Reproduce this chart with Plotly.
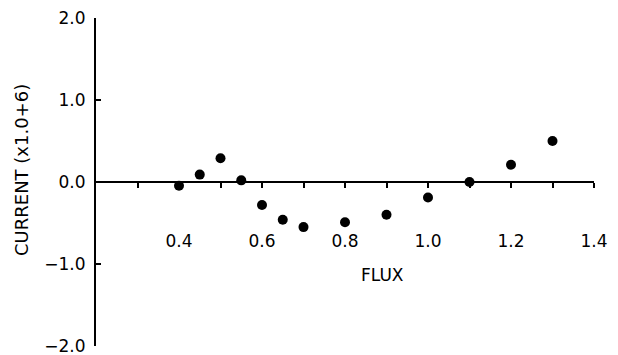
import plotly.graph_objects as go

# Data
flux = [0.40, 0.45, 0.50, 0.55, 0.60, 0.65, 0.70, 0.80, 0.90, 1.00, 1.10, 1.20, 1.30]
current = [-0.045, 0.09, 0.29, 0.02, -0.28, -0.46, -0.55, -0.49, -0.40, -0.19, 0.0, 0.21, 0.50]

x_tickvals = [0.3, 0.4, 0.5, 0.6, 0.7, 0.8, 0.9, 1.0, 1.1, 1.2, 1.3, 1.4]
x_ticktext = ["", "0.4", "", "0.6", "", "0.8", "", "1.0", "", "1.2", "", "1.4"]
y_tickvals = [-2.0, -1.0, 0.0, 1.0, 2.0]

FONT = "DejaVu Sans"

fig = go.Figure()
fig.add_trace(go.Scatter(
    x=flux, y=current, mode="markers",
    marker=dict(color="black", size=10, line=dict(width=0)),
    showlegend=False, cliponaxis=False,
))

fig.update_layout(
    width=618, height=355,
    margin=dict(l=96, r=24, t=18, b=9, autoexpand=False),
    paper_bgcolor="white", plot_bgcolor="white",
    font=dict(family=FONT, size=17, color="black"),
    xaxis=dict(
        range=[0.2, 1.4], anchor="free", position=0.5,
        automargin=False,
        showgrid=False, zeroline=False,
        showline=True, linecolor="black", linewidth=2,
        ticks="outside", ticklen=5, tickwidth=2, tickcolor="black",
        tickvals=x_tickvals, ticktext=x_ticktext,
        ticklabelstandoff=39, ticklabeloverflow="allow",
        tickfont=dict(family=FONT, size=17, color="black"),
    ),
    yaxis=dict(
        range=[-2.0, 2.0], automargin=False,
        showgrid=False, zeroline=False,
        showline=True, linecolor="black", linewidth=2,
        ticks="inside", ticklen=5, tickwidth=2, tickcolor="black",
        tickvals=y_tickvals, tickformat=".1f",
        ticklabeloverflow="allow", ticklabelstandoff=5,
        tickfont=dict(family=FONT, size=17, color="black"),
    ),
    annotations=[
        dict(text="FLUX", x=0.89, y=-1.13, xref="x", yref="y",
             showarrow=False, font=dict(family=FONT, size=17, color="black")),
        dict(text="CURRENT (x1.0+6)", x=-0.1486, y=0.5366, xref="paper", yref="paper",
             textangle=-90, showarrow=False, xanchor="center", yanchor="middle",
             font=dict(family=FONT, size=18, color="black")),
    ],
)

fig.write_html(
    "out.html",
    config={"displayModeBar": False},
    post_script="document.body.style.margin='0';document.body.style.padding='0';document.body.style.overflow='hidden';",
)
